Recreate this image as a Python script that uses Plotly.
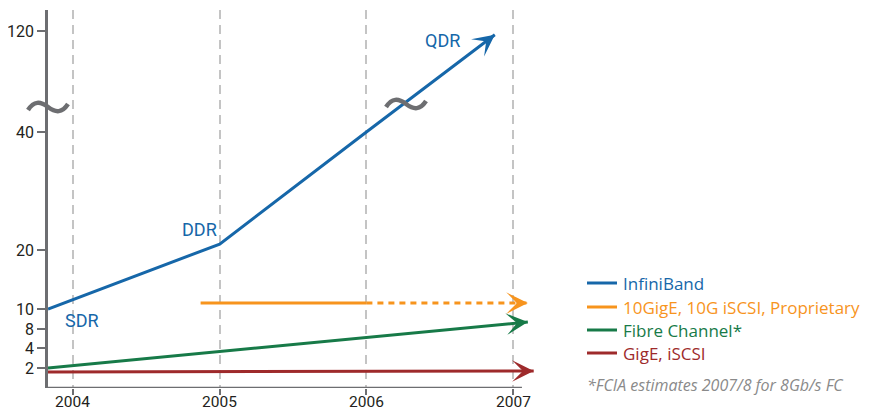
import numpy as np
import plotly.graph_objects as go

# ---------------- data ----------------
years = [2004, 2005, 2006, 2007]
y_tick_values = [2, 4, 8, 10, 20, 40, 120]

ib_x = [2003.83, 2005, 2006, 2006.875]
ib_y = [10, 21, 40, 117]

ten_solid_x = [2004.87, 2006]
ten_solid_y = [11, 11]
ten_dash_x = [2006, 2007.1]
ten_dash_y = [11, 11]

fc_x = [2003.83, 2007.1]
fc_y = [2, 8.7]

gige_x = [2003.83, 2007.14]
gige_y = [1.6, 1.7]

series_names = ["InfiniBand", "10GigE, 10G iSCSI, Proprietary", "Fibre Channel*", "GigE, iSCSI"]
footnote = "*FCIA estimates 2007/8 for 8Gb/s FC"

# ---------------- broken (piecewise) value scale ----------------
scale_vals = [0, 2, 4, 8, 10, 20, 40, 120]
scale_pos = [0, 20, 40, 59, 79, 138, 256, 357]


def sy(v):
    return list(np.interp(v, scale_vals, scale_pos))


BLUE = "#1667a9"
ORANGE = "#f7941d"
GREEN = "#177a48"
RED = "#9e2a2b"
AXIS = "#6d6e71"
TXT_FONT = "Open Sans, Noto Sans, sans-serif"
TICK_FONT = "Roboto, sans-serif"

X_MIN, X_MAX = 2003.83, 2007.183
PX_PER_YEAR = 146.7

# page layout (the html body has an 8px margin)
BODY = 8
PLOT_L, PLOT_R, PLOT_T, PLOT_B = 48, 540, 10, 388
FIG_W, FIG_H = 871 - BODY, 415 - BODY


def px(xp):
    return (xp - PLOT_L) / (PLOT_R - PLOT_L)


def py(yp):
    return (PLOT_B - yp) / (PLOT_B - PLOT_T)


fig = go.Figure()


def add_series(xs, ys, color, dash="solid", arrow=True):
    n = len(xs)
    yy = sy(ys)
    backoff = [0] * (n - 1) + [8] if arrow else 0
    fig.add_trace(go.Scatter(x=xs, y=yy, mode="lines", showlegend=False, hoverinfo="skip",
                             line=dict(color=color, width=3, dash=dash, backoff=backoff)))
    if arrow:
        x1, y1, x0, y0 = xs[-1], yy[-1], xs[-2], yy[-2]
        dxp, dyp = (x1 - x0) * PX_PER_YEAR, (y1 - y0)
        f = 12.0 / np.hypot(dxp, dyp)
        fig.add_annotation(x=x1, y=y1, ax=x1 - f * (x1 - x0), ay=y1 - f * (y1 - y0),
                           xref="x", yref="y", axref="x", ayref="y", text="", showarrow=True,
                           arrowhead=3, arrowwidth=3, arrowsize=1.2, arrowcolor=color)


add_series(ib_x, ib_y, BLUE)
add_series(ten_solid_x, ten_solid_y, ORANGE, arrow=False)
add_series(ten_dash_x, ten_dash_y, ORANGE, dash="6px,5px")
add_series(fc_x, fc_y, GREEN)
add_series(gige_x, gige_y, RED)

# legend (keys + coloured labels)
legend_rows = [283, 307, 330, 353]
for name, color, yrow in zip(series_names, [BLUE, ORANGE, GREEN, RED], legend_rows):
    fig.add_shape(type="line", xref="paper", yref="paper", x0=px(587), x1=px(617),
                  y0=py(yrow), y1=py(yrow), line=dict(color=color, width=3))
    fig.add_annotation(x=px(621), y=py(yrow), xref="paper", yref="paper", text=name,
                       showarrow=False, xanchor="left", yanchor="middle",
                       font=dict(family=TXT_FONT, size=17, color=color))

fig.add_annotation(x=px(585), y=py(385), xref="paper", yref="paper",
                   text=f"<i>{footnote}</i>", showarrow=False, xanchor="left", yanchor="middle",
                   font=dict(family=TXT_FONT, size=16, color="#8a8a8a"))

# year labels under the axis ticks
for yr in years:
    fig.add_annotation(x=yr, y=py(402), xref="x", yref="paper", text=str(yr), showarrow=False,
                       xanchor="center", yanchor="middle",
                       font=dict(family=TICK_FONT, size=15.5, color="#231f20"))

# x axis line (ends just past 2007)
fig.add_shape(type="line", xref="x", yref="y", x0=X_MIN, x1=2007.06, y0=0, y1=0,
              line=dict(color=AXIS, width=2.5), layer="above")

# break marks (~): one on the value axis, one on the InfiniBand line
tilde = "M-20,-3 C-14,6 -8,6 0,0 C8,-6 14,-6 20,3"
fig.add_shape(type="path", xsizemode="pixel", ysizemode="pixel", xanchor=0, yanchor=281,
              xref="paper", yref="y", path=tilde, line=dict(color=AXIS, width=4.5), layer="above")
fig.add_shape(type="path", xsizemode="pixel", ysizemode="pixel", xanchor=2006.27, yanchor=284,
              xref="x", yref="y", path=tilde, line=dict(color=AXIS, width=4.5), layer="above")

# labels
for txt, xv, yv in [("SDR", 2004.06, 320), ("DDR", 2004.86, 229), ("QDR", 2006.52, 40)]:
    fig.add_annotation(x=xv, y=PLOT_B - yv, xref="x", yref="y", text=txt, showarrow=False,
                       font=dict(family=TICK_FONT, size=18, color=BLUE))

fig.update_layout(
    width=FIG_W, height=FIG_H,
    margin=dict(l=PLOT_L - BODY, r=FIG_W - (PLOT_R - BODY), t=PLOT_T - BODY, b=FIG_H - (PLOT_B - BODY)),
    paper_bgcolor="white", plot_bgcolor="white",
    font=dict(family=TICK_FONT, size=16, color="#231f20"),
    showlegend=False,
    xaxis=dict(range=[X_MIN, X_MAX], tickvals=years, showticklabels=False,
               showgrid=True, gridcolor="#c4c4c4", gridwidth=1.5, griddash="9px,6px",
               showline=False, zeroline=False, ticks="outside", ticklen=6, tickwidth=2,
               tickcolor=AXIS, automargin=False),
    yaxis=dict(range=[0, PLOT_B - PLOT_T], tickvals=sy(y_tick_values),
               ticktext=[str(v) for v in y_tick_values],
               showgrid=False, zeroline=False, showline=True, linecolor=AXIS, linewidth=2.5,
               ticks="outside", ticklen=8, tickwidth=2, tickcolor=AXIS, tickfont=dict(size=16),
               automargin=False),
)

fig.write_html("out.html")
